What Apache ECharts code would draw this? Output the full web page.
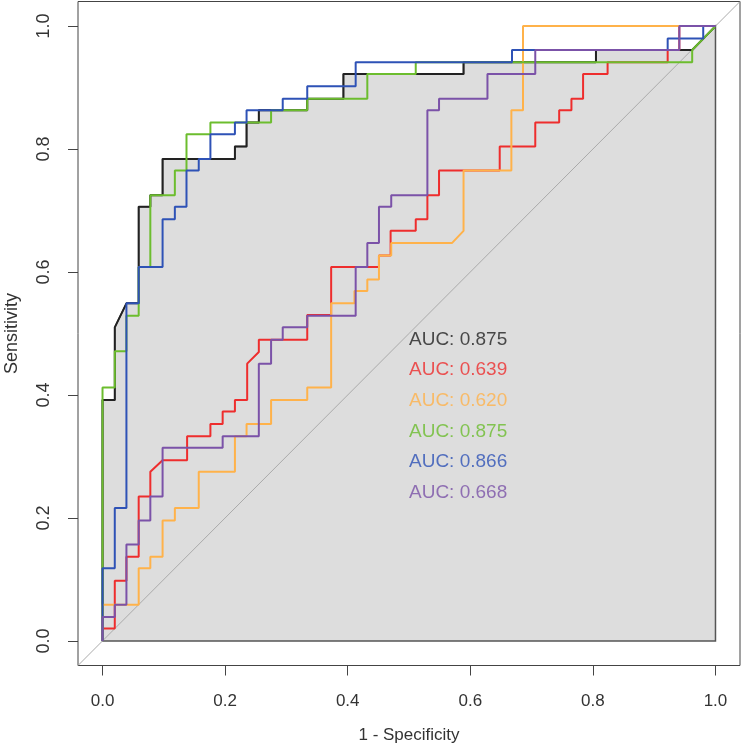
<!DOCTYPE html>
<html>
<head>
  <meta charset="utf-8">
  <title>ROC</title>
  <script src="https://cdn.jsdelivr.net/npm/echarts@6/dist/echarts.min.js"></script>
  <style>
    html, body { margin: 0; padding: 0; background: #fff; }
    #chart { width: 743px; height: 747px; }
  </style>
</head>
<body>
  <div id="chart"></div>
  <script>
    // curves: [1 - specificity, sensitivity]
    const rocBlack = [[0,0],[0,0.392],[0.02,0.392],[0.02,0.51],[0.039,0.549],[0.059,0.549],[0.059,0.706],[0.078,0.706],[0.078,0.725],[0.098,0.725],[0.098,0.784],[0.216,0.784],[0.216,0.804],[0.235,0.804],[0.235,0.843],[0.255,0.843],[0.255,0.863],[0.334,0.863],[0.334,0.882],[0.393,0.882],[0.393,0.922],[0.589,0.922],[0.589,0.941],[0.805,0.941],[0.805,0.961],[0.962,0.961],[1,1]];
    const rocRed = [[0,0],[0,0.02],[0.02,0.02],[0.02,0.098],[0.039,0.098],[0.039,0.137],[0.059,0.137],[0.059,0.235],[0.078,0.235],[0.078,0.275],[0.098,0.294],[0.138,0.294],[0.138,0.333],[0.176,0.333],[0.176,0.353],[0.196,0.353],[0.196,0.373],[0.216,0.373],[0.216,0.392],[0.236,0.392],[0.236,0.451],[0.255,0.47],[0.255,0.49],[0.334,0.49],[0.334,0.53],[0.373,0.53],[0.373,0.608],[0.451,0.608],[0.451,0.627],[0.47,0.627],[0.47,0.667],[0.511,0.667],[0.511,0.686],[0.53,0.686],[0.53,0.725],[0.549,0.725],[0.549,0.765],[0.648,0.765],[0.648,0.804],[0.706,0.804],[0.706,0.843],[0.745,0.843],[0.745,0.863],[0.765,0.863],[0.765,0.882],[0.784,0.882],[0.784,0.922],[0.824,0.922],[0.824,0.941],[0.922,0.941],[0.922,0.961],[0.941,0.961],[0.941,1],[1,1]];
    const rocOrange = [[0,0],[0,0.059],[0.059,0.059],[0.059,0.118],[0.078,0.118],[0.078,0.137],[0.098,0.137],[0.098,0.196],[0.118,0.196],[0.118,0.216],[0.157,0.216],[0.157,0.275],[0.216,0.275],[0.216,0.333],[0.235,0.333],[0.235,0.353],[0.275,0.353],[0.275,0.392],[0.334,0.392],[0.334,0.412],[0.373,0.412],[0.373,0.549],[0.411,0.549],[0.411,0.569],[0.432,0.569],[0.432,0.588],[0.451,0.588],[0.451,0.627],[0.471,0.627],[0.471,0.647],[0.57,0.647],[0.589,0.667],[0.589,0.765],[0.667,0.765],[0.667,0.863],[0.686,0.863],[0.686,1],[1,1]];
    const rocGreen = [[0,0],[0,0.412],[0.02,0.412],[0.02,0.471],[0.039,0.471],[0.039,0.529],[0.059,0.529],[0.059,0.608],[0.078,0.608],[0.078,0.725],[0.118,0.725],[0.118,0.765],[0.137,0.765],[0.137,0.824],[0.176,0.824],[0.176,0.843],[0.275,0.843],[0.275,0.863],[0.334,0.863],[0.334,0.882],[0.432,0.882],[0.432,0.922],[0.511,0.922],[0.511,0.941],[0.962,0.941],[0.962,0.961],[1,1]];
    const rocBlue = [[0,0],[0,0.118],[0.02,0.118],[0.02,0.216],[0.039,0.216],[0.039,0.549],[0.059,0.549],[0.059,0.608],[0.098,0.608],[0.098,0.686],[0.118,0.686],[0.118,0.706],[0.137,0.706],[0.137,0.765],[0.157,0.765],[0.157,0.784],[0.176,0.784],[0.176,0.824],[0.216,0.824],[0.216,0.843],[0.235,0.843],[0.235,0.863],[0.294,0.863],[0.294,0.882],[0.334,0.882],[0.334,0.902],[0.413,0.902],[0.413,0.941],[0.668,0.941],[0.668,0.961],[0.922,0.961],[0.922,0.98],[0.98,0.98],[0.98,1],[1,1]];
    const rocPurple = [[0,0],[0,0.039],[0.02,0.039],[0.02,0.059],[0.039,0.059],[0.039,0.157],[0.059,0.157],[0.059,0.196],[0.078,0.196],[0.078,0.235],[0.098,0.235],[0.098,0.314],[0.196,0.314],[0.196,0.333],[0.255,0.333],[0.255,0.451],[0.275,0.451],[0.275,0.49],[0.294,0.49],[0.294,0.51],[0.334,0.51],[0.334,0.529],[0.413,0.529],[0.413,0.608],[0.432,0.608],[0.432,0.647],[0.451,0.647],[0.451,0.706],[0.471,0.706],[0.471,0.725],[0.53,0.725],[0.53,0.863],[0.549,0.863],[0.549,0.882],[0.628,0.882],[0.628,0.922],[0.706,0.922],[0.706,0.961],[0.941,0.961],[0.941,1],[1,1]];

    const aucValues = [0.875, 0.639, 0.620, 0.875, 0.866, 0.668];
    const tickValues = [0, 0.2, 0.4, 0.6, 0.8, 1.0];

    const curves = [rocBlack, rocRed, rocOrange, rocGreen, rocBlue, rocPurple];
    const colors = ['#222222', '#ee2d2d', '#ffb24a', '#6cbd2e', '#2e52b6', '#7b52a8'];

    // where the AUC texts sit (data units)
    const aucX = 0.5;
    const aucY0 = 0.49, aucStep = 0.0497;

    const fontMain = '"Liberation Sans", Arial, sans-serif';

    const myChart = echarts.init(document.getElementById('chart'));

    // grey area under the first curve
    const polyPts = rocBlack.concat([[1, 0], [0, 0]]);

    const series = [];
    series.push({
      type: 'custom',
      silent: true,
      data: [[0, 0]],
      renderItem: function (params, api) {
        return {
          type: 'polygon',
          shape: { points: polyPts.map(p => api.coord(p)) },
          style: { fill: '#dddddd', stroke: '#555555', lineWidth: 1.5 }
        };
      },
      z: 1
    });
    series.push({
      type: 'line',
      data: [[-0.04, -0.04], [1.04, 1.04]],
      showSymbol: false,
      silent: true,
      lineStyle: { color: '#aaaaaa', width: 1 },
      z: 2
    });
    curves.forEach((c, i) => {
      series.push({
        type: 'line',
        data: c,
        showSymbol: false,
        silent: true,
        lineStyle: { color: colors[i], width: 2 },
        z: 3
      });
    });
    series.push({
      type: 'scatter',
      symbolSize: 0,
      silent: true,
      data: aucValues.map((v, i) => ({
        value: [aucX, aucY0 - aucStep * i],
        label: { color: colors[i] }
      })),
      label: {
        show: true,
        position: 'right',
        distance: 0,
        fontSize: 19,
        fontFamily: fontMain,
        formatter: p => 'AUC: ' + aucValues[p.dataIndex].toFixed(3)
      },
      z: 5
    });

    const option = {
      animation: false,
      grid: {
        left: 78, right: 3, top: 1.5, bottom: 81.5,
        containLabel: false,
        outerBoundsMode: 'none',
        show: true, borderColor: '#444', borderWidth: 1
      },
      xAxis: {
        type: 'value',
        min: -0.04, max: 1.04,
        name: '1 - Specificity',
        nameLocation: 'middle',
        nameGap: 61,
        nameTextStyle: { fontSize: 17, color: '#333', fontFamily: fontMain },
        splitLine: { show: false },
        axisLine: { show: false, onZero: false },
        axisTick: { show: true, length: 10, customValues: tickValues, lineStyle: { color: '#444' } },
        axisLabel: {
          customValues: tickValues, margin: 27, fontSize: 17, color: '#333',
          fontFamily: fontMain,
          formatter: v => v.toFixed(1)
        }
      },
      yAxis: {
        type: 'value',
        min: -0.04, max: 1.04,
        name: 'Sensitivity',
        nameLocation: 'middle',
        nameGap: 57,
        nameRotate: 90,
        nameTextStyle: { fontSize: 18, color: '#333', fontFamily: fontMain },
        splitLine: { show: false },
        axisLine: { show: false, onZero: false },
        axisTick: { show: true, length: 10, customValues: tickValues, lineStyle: { color: '#444' } },
        axisLabel: {
          customValues: tickValues, margin: 25, fontSize: 18, color: '#333', rotate: 90,
          fontFamily: fontMain,
          formatter: v => v.toFixed(1)
        }
      },
      series: series
    };

    myChart.setOption(option);
  </script>
</body>
</html>
